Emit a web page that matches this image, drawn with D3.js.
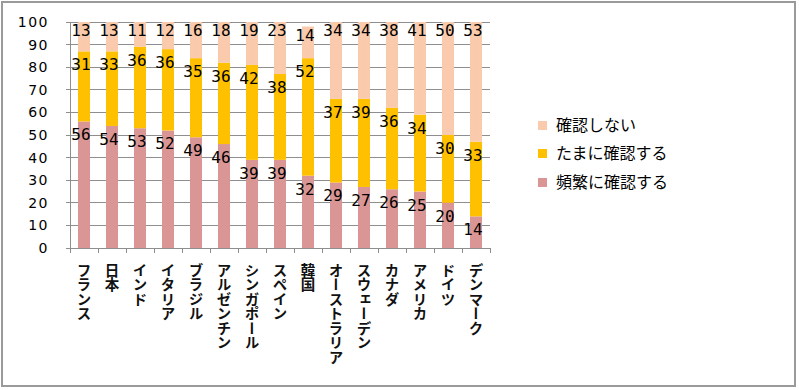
<!DOCTYPE html>
<html>
<head>
<meta charset="utf-8">
<script src="https://cdn.jsdelivr.net/npm/d3@7"></script>
<style>
  body { margin: 0; background: #fff; }
  svg { display: block; }
</style>
</head>
<body>
<div id="chart"></div>
<script>
// Data
const countries = ['フランス', '日本', 'インド', 'イタリア', 'ブラジル', 'アルゼンチン', 'シンガポール',
  'スペイン', '韓国', 'オーストラリア', 'スウェーデン', 'カナダ', 'アメリカ', 'ドイツ', 'デンマーク']
const often = [56, 54, 53, 52, 49, 46, 39, 39, 32, 29, 27, 26, 25, 20, 14]
const sometimes = [31, 33, 36, 36, 35, 36, 42, 38, 52, 37, 39, 36, 34, 30, 33]
const never = [13, 13, 11, 12, 16, 18, 19, 23, 14, 34, 34, 38, 41, 50, 53]
const seriesNames = ['頻繁に確認する', 'たまに確認する', '確認しない']
const yTicks = [0, 10, 20, 30, 40, 50, 60, 70, 80, 90, 100]

const width = 799
const height = 390
const colors = ['#D99694', '#FFC000', '#F9CBAC']

const svg = d3.select('#chart')
  .append('svg')
  .attr('width', width)
  .attr('height', height)

// outer frame
svg.append('rect')
  .attr('x', 2).attr('y', 2)
  .attr('width', 793).attr('height', 384)
  .attr('fill', '#fff')
  .attr('stroke', '#9a9a9a')
  .attr('stroke-width', 2)

let x = d3.scaleBand()
  .domain(countries)
  .range([70, 490])
  .paddingInner(0.57)
  .paddingOuter(0.285)

let y = d3.scaleLinear()
  .domain([0, 100])
  .range([248, 22])

// gridlines
svg.append('g')
  .selectAll('line')
  .data(yTicks)
  .enter()
  .append('line')
  .attr('x1', 66).attr('x2', 490)
  .attr('y1', d => y(d)).attr('y2', d => y(d))
  .attr('stroke', '#8e8e8e')
  .attr('stroke-width', 1)
  .attr('shape-rendering', 'crispEdges')

// y axis line
svg.append('line')
  .attr('x1', 70).attr('x2', 70)
  .attr('y1', y(100)).attr('y2', y(0))
  .attr('stroke', '#8e8e8e')
  .attr('shape-rendering', 'crispEdges')

// y labels
svg.append('g')
  .selectAll('text')
  .data(yTicks)
  .enter()
  .append('text')
  .attr('x', 49)
  .attr('y', d => y(d) + 5)
  .attr('text-anchor', 'end')
  .attr('font-family', 'DejaVu Sans, sans-serif')
  .attr('font-size', 14)
  .attr('letter-spacing', 1.5)
  .attr('fill', '#000')
  .text(d => d)

// stacked data
const rows = countries.map((c, i) => ({ country: c, often: often[i], sometimes: sometimes[i], never: never[i] }))
const stack = d3.stack().keys(['often', 'sometimes', 'never'])
const layers = stack(rows)

svg.append('g')
  .selectAll('g')
  .data(layers)
  .enter()
  .append('g')
  .attr('fill', (d, i) => colors[i])
  .selectAll('rect')
  .data(d => d)
  .enter()
  .append('rect')
  .attr('x', d => x(d.data.country))
  .attr('width', x.bandwidth())
  .attr('y', d => y(d[1]))
  .attr('height', d => y(d[0]) - y(d[1]))

// x axis ticks
const xTickPos = countries.map(c => x(c) - x.step() * x.paddingInner() / 2)
xTickPos.push(490)
svg.append('g')
  .selectAll('line')
  .data(xTickPos)
  .enter()
  .append('line')
  .attr('x1', d => Math.round(d) + 0.5).attr('x2', d => Math.round(d) + 0.5)
  .attr('y1', y(0)).attr('y2', y(0) + 5)
  .attr('stroke', '#8e8e8e')

svg.append('line')
  .attr('x1', 70).attr('x2', 490)
  .attr('y1', y(0)).attr('y2', y(0))
  .attr('stroke', '#8e8e8e')
  .attr('shape-rendering', 'crispEdges')

// data labels, near the top of each segment
layers.forEach((layer, li) => {
  svg.append('g')
    .selectAll('text')
    .data(layer)
    .enter()
    .append('text')
    .attr('x', d => x(d.data.country) + x.bandwidth() / 2 - 3)
    .attr('y', d => y(d[1]) + (li === 2 ? 14 : 19))
    .attr('text-anchor', 'middle')
    .attr('font-family', 'DejaVu Sans Mono, monospace')
    .attr('font-size', 16)
    .attr('fill', '#000')
    .text(d => d[1] - d[0])
})

// category labels (vertical)
svg.append('g')
  .selectAll('text')
  .data(countries)
  .enter()
  .append('text')
  .attr('x', d => x(d) + x.bandwidth() / 2)
  .attr('y', 263)
  .attr('font-family', 'Noto Sans CJK JP, sans-serif')
  .attr('font-size', 14.5)
  .attr('font-weight', 'bold')
  .attr('fill', '#111')
  .style('writing-mode', 'vertical-rl')
  .style('text-orientation', 'upright')
  .text(d => d)

// legend
const legendY = [182, 153, 125]
const legend = svg.append('g')
  .selectAll('g')
  .data(seriesNames)
  .enter()
  .append('g')
  .attr('transform', (d, i) => `translate(538, ${legendY[i]})`)

legend.append('rect')
  .attr('x', 0).attr('y', -4)
  .attr('width', 9).attr('height', 9)
  .attr('fill', (d, i) => colors[i])

legend.append('text')
  .attr('x', 18)
  .attr('y', 6)
  .attr('font-family', 'Noto Sans CJK JP, sans-serif')
  .attr('font-size', 16)
  .attr('fill', '#000')
  .text(d => d)
</script>
</body>
</html>
